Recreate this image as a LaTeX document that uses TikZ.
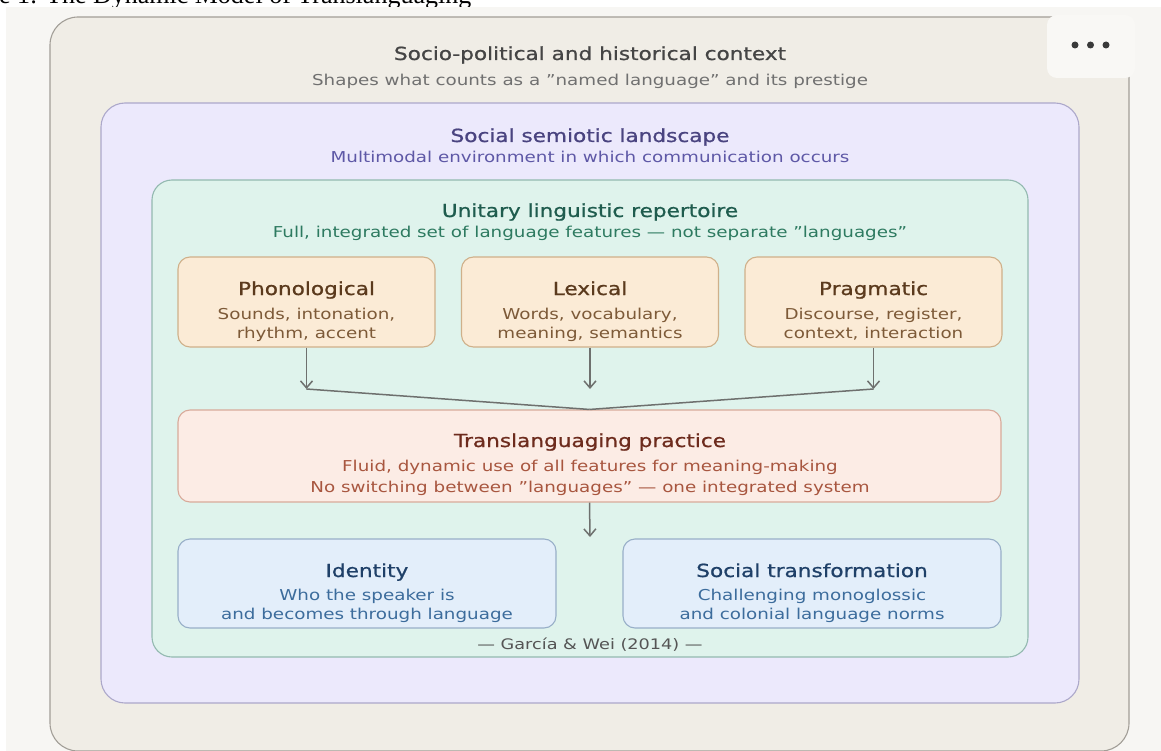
\documentclass[tikz,border=0pt]{standalone}
\usepackage{fontspec}
\setmainfont{DejaVu Sans}[FakeStretch=1.22]
\newfontfamily\headfont{DejaVu Sans}[FakeStretch=1.2, FakeBold=0.9]
\newfontfamily\capfont{Liberation Serif}
\usetikzlibrary{arrows.meta}

% palette
\definecolor{pagebg}{HTML}{F7F6F3}
\definecolor{outerfill}{HTML}{F0EDE6}
\definecolor{outerline}{HTML}{A29E97}
\definecolor{btnfill}{HTML}{F9F8F5}
\definecolor{dotcol}{HTML}{3A3A3A}
\definecolor{vfill}{HTML}{ECE9FC}
\definecolor{vline}{HTML}{ACA8CA}
\definecolor{gfill}{HTML}{DFF3EC}
\definecolor{gline}{HTML}{93B9B0}
\definecolor{ffill}{HTML}{FBEBD6}
\definecolor{fline}{HTML}{CFB08A}
\definecolor{tfill}{HTML}{FCECE5}
\definecolor{tline}{HTML}{D8AA9A}
\definecolor{bfill}{HTML}{E3EEFA}
\definecolor{bline}{HTML}{98AFC8}
\definecolor{arrcol}{HTML}{6E706E}
\definecolor{stitle}{HTML}{454545}
\definecolor{ssub}{HTML}{707070}
\definecolor{vtitle}{HTML}{4A4480}
\definecolor{vsub}{HTML}{5E58A6}
\definecolor{gtitle}{HTML}{1F5C4E}
\definecolor{gsub}{HTML}{2D7A60}
\definecolor{ftitle}{HTML}{5B3A1D}
\definecolor{fsub}{HTML}{7D5A38}
\definecolor{ttitle}{HTML}{6D2B1D}
\definecolor{tsub}{HTML}{A8563F}
\definecolor{btitle}{HTML}{1F4068}
\definecolor{bsub}{HTML}{3C6C9C}
\definecolor{citecol}{HTML}{555555}

\tikzset{
  ttl/.style={font=\headfont\fontsize{18}{22}\selectfont, inner sep=0pt, anchor=base},
  sub/.style={font=\fontsize{15}{19}\selectfont, inner sep=0pt, anchor=base},
  featbox/.style={draw=fline, fill=ffill, line width=1.1pt, rounded corners=12pt,
    minimum width=257pt, minimum height=90pt, inner sep=0pt},
  practicebox/.style={draw=tline, fill=tfill, line width=1.1pt, rounded corners=12pt,
    minimum width=823pt, minimum height=92pt, inner sep=0pt},
  outcomebox/.style={draw=bline, fill=bfill, line width=1.1pt, rounded corners=12pt,
    minimum width=378pt, minimum height=89pt, inner sep=0pt},
  arr/.style={draw=arrcol, line width=1.5pt, -{Straight Barb[length=7pt,width=12pt]}},
  link/.style={draw=arrcol, line width=1.5pt},
}

\begin{document}
\begin{tikzpicture}[x=1pt,y=-1pt]
\useasboundingbox (0,0) rectangle (1161,751);
\clip (0,0) rectangle (1161,751);

% caption line above the screenshot, mostly cut off
\node[font=\capfont\fontsize{26}{30}\selectfont, anchor=base west, inner sep=0pt]
  (caption) at (-1,4) {e 1: The Dynamic Model of Translanguaging};

% screenshot background
\fill[pagebg] (6,7) rectangle (1161,751);

% outer frame: socio-political context
\draw[outerline, fill=outerfill, line width=1.1pt, rounded corners=28pt]
  (50,17) rectangle (1129,751);
% menu button
\fill[btnfill, rounded corners=10pt] (1047,15) rectangle (1135,78);
\node[circle, fill=dotcol, inner sep=0pt, minimum size=7pt] (d1) at (1075,45) {};
\node[circle, fill=dotcol, inner sep=0pt, minimum size=7pt] (d2) at (1090.5,45) {};
\node[circle, fill=dotcol, inner sep=0pt, minimum size=7pt] (d3) at (1106,45) {};

\node[ttl, text=stitle] (ctxT) at (590,60) {Socio-political and historical context};
\node[sub, text=ssub] (ctxS) at (590,86) {Shapes what counts as a "named language" and its prestige};

% semiotic landscape frame
\draw[vline, fill=vfill, line width=1.1pt, rounded corners=24pt]
  (101,103) rectangle (1079,703);
\node[ttl, text=vtitle] (semT) at (590,142) {Social semiotic landscape};
\node[sub, text=vsub] (semS) at (590,163) {Multimodal environment in which communication occurs};

% repertoire frame
\draw[gline, fill=gfill, line width=1.1pt, rounded corners=20pt]
  (152,180) rectangle (1028,657);
\node[ttl, text=gtitle] (repT) at (590,217) {Unitary linguistic repertoire};
\node[sub, text=gsub] (repS) at (590,238) {Full, integrated set of language features — not separate "languages"};

% feature boxes
\node[featbox] (phon) at (306.5,302) {};
\node[featbox] (lex)  at (590,302) {};
\node[featbox] (prag) at (873.5,302) {};
\foreach \b/\t/\la/\lb in {phon/Phonological/{Sounds, intonation,}/{rhythm, accent},
                          lex/Lexical/{Words, vocabulary,}/{meaning, semantics},
                          prag/Pragmatic/{Discourse, register,}/{context, interaction}}{
  \node[ttl, text=ftitle] (\b T) at ([yshift=7pt]\b.center) {\t};
  \node[sub, text=fsub] (\b A) at ([yshift=-17pt]\b.center) {\la};
  \node[sub, text=fsub] (\b B) at ([yshift=-36pt]\b.center) {\lb};
}

% practice box
\node[practicebox] (prac) at (589.5,456) {};
\node[ttl, text=ttitle] (pracT) at (590,447) {Translanguaging practice};
\node[sub, text=tsub] (pracA) at (590,471) {Fluid, dynamic use of all features for meaning-making};
\node[sub, text=tsub] (pracB) at (590,492) {No switching between "languages" — one integrated system};

% outcome boxes
\node[outcomebox] (iden) at (367,583.5) {};
\node[outcomebox] (soc)  at (812,583.5) {};
\node[ttl, text=btitle] (idenT) at (367,577) {Identity};
\node[sub, text=bsub] (idenA) at (367,600) {Who the speaker is};
\node[sub, text=bsub] (idenB) at (367,619) {and becomes through language};
\node[ttl, text=btitle] (socT) at (812,577) {Social transformation};
\node[sub, text=bsub] (socA) at (812,600) {Challenging monoglossic};
\node[sub, text=bsub] (socB) at (812,619) {and colonial language norms};

\node[font=\fontsize{14.5}{18}\selectfont, text=citecol, inner sep=0pt, anchor=base]
  (cite) at (590,649) {— García \& Wei (2014) —};

% connectors
\coordinate (pj) at (306.5,389);
\coordinate (lj) at (590,389);
\coordinate (rj) at (873.5,389);
\coordinate (split) at (590,537);
\draw[arr] (phon.south) -- (pj);
\draw[arr] (lex.south) -- (lj);
\draw[arr] (prag.south) -- (rj);
\draw[link] (pj) -- (prac.north);
\draw[link] (rj) -- (prac.north);
\draw[arr] (prac.south) -- (split);
\end{tikzpicture}
\end{document}
